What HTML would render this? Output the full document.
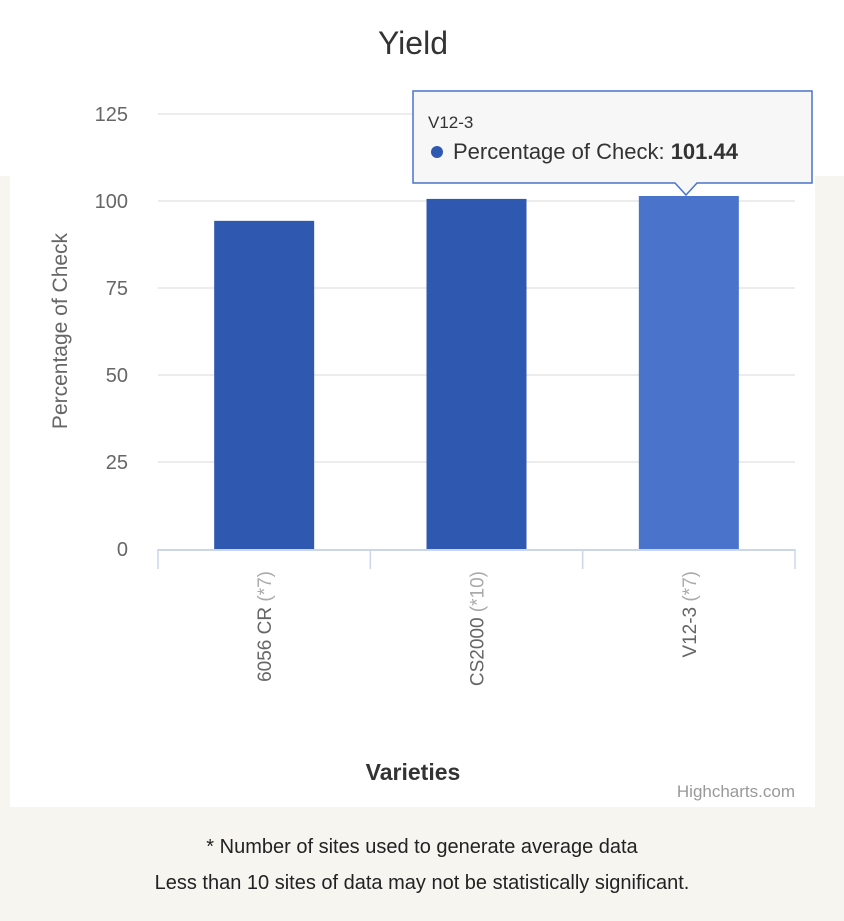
<!DOCTYPE html>
<html><head><meta charset="utf-8"><style>
body{margin:0;width:844px;height:921px;background:#f6f5f0;font-family:"Liberation Sans","DejaVu Sans",sans-serif;position:relative;overflow:hidden}
.top{position:absolute;left:0;top:0;width:844px;height:176px;background:#fff}
.card{position:absolute;left:10px;top:0;width:805px;height:807px;background:#fff}
.note{position:absolute;left:0;width:844px;text-align:center;font-size:20px;color:#222}
</style></head><body>
<div class="top"></div>
<div class="card"></div>
<svg id="chart" width="844" height="810" style="position:absolute;left:0;top:0">
<text x="413" y="54" text-anchor="middle" font-size="32" fill="#333">Yield</text>
<g id="grid"></g><g id="bars"></g><g id="xaxis"></g>
<text transform="translate(67,331) rotate(-90)" text-anchor="middle" font-size="21" fill="#666">Percentage of Check</text>
<text x="413" y="780" text-anchor="middle" font-size="23" font-weight="bold" fill="#333">Varieties</text>
<text x="795" y="797" text-anchor="end" font-size="17" fill="#999">Highcharts.com</text>
<g>
<path d="M413,91 H812 V183 H697 L686,195 L675,183 H413 Z" fill="#f7f7f7" fill-opacity="0.97" stroke="#4a74cb" stroke-width="1.5"/>
<text x="428" y="128" font-size="17" fill="#333">V12-3</text>
<circle cx="437" cy="152" r="6" fill="#2f59b0"/>
<text x="453" y="159" font-size="22" fill="#333">Percentage of Check: <tspan font-weight="bold">101.44</tspan></text>
</g>
</svg>
<div class="note" style="top:836px">* Number of sites used to generate average data</div>
<div class="note" style="top:872px">Less than 10 sites of data may not be statistically significant.</div>
<script>
const categories=["6056 CR","CS2000","V12-3"];
const siteCounts=["(*7)","(*10)","(*7)"];
const values=[94.3,100.6,101.44];
const yTicks=[0,25,50,75,100,125];
const NS="http://www.w3.org/2000/svg";
const x0=158,x1=795,yBase=549,yTop=114,yMax=125;
const y=v=>yBase-(v/yMax)*(yBase-yTop);
const bw=(x1-x0)/categories.length;
const grid=document.getElementById('grid'),bars=document.getElementById('bars'),xa=document.getElementById('xaxis');
function mk(tag,attrs,parent){const e=document.createElementNS(NS,tag);for(const k in attrs)e.setAttribute(k,attrs[k]);parent.appendChild(e);return e;}
yTicks.forEach(t=>{
  if(t>0){const l=mk('line',{x1:x0,x2:x1,y1:y(t),y2:y(t),stroke:'#e6e6e6','stroke-width':1.5},grid);
  
  }
  const tx=mk('text',{x:128,y:y(t)+7,'text-anchor':'end','font-size':20,fill:'#666'},grid);
  tx.textContent=t;
  
  
});
const ax=mk('line',{x1:x0,x2:x1,y1:yBase+1,y2:yBase+1,stroke:'#ccd6eb','stroke-width':2},xa);


for(let i=0;i<=categories.length;i++){const tk=mk('line',{x1:x0+i*bw,x2:x0+i*bw,y1:yBase,y2:yBase+20,stroke:'#ccd6eb','stroke-width':1.5},xa);

}
categories.forEach((c,i)=>{
  const cx=x0+bw*(i+0.5),w=100;
  const r=mk('rect',{x:cx-w/2,y:y(values[i]),width:w,height:yBase-y(values[i]),fill:i===2?'#4a74cb':'#2f59b0'},bars);
  
  
  const t=mk('text',{transform:`translate(${cx+7},${yBase+22}) rotate(-90)`,'text-anchor':'end','font-size':19,fill:'#666'},xa);
  t.innerHTML=c+' <tspan fill="#aaa">'+siteCounts[i]+'</tspan>';
  
  
});
</script>
</body></html>
